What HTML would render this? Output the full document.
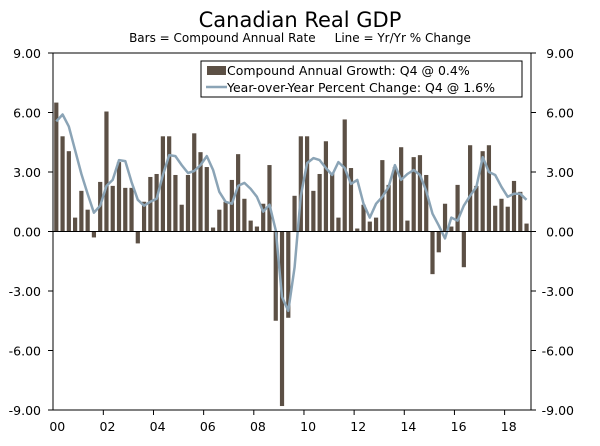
<!DOCTYPE html>
<html><head><meta charset="utf-8"><style>
html,body{margin:0;padding:0;background:#fff;}
svg text{font-family:"DejaVu Sans","Liberation Sans",sans-serif;fill:#000;}
</style></head><body>
<svg id="chart" width="600" height="441" viewBox="0 0 600 441" xmlns="http://www.w3.org/2000/svg">
<text x="300" y="27" text-anchor="middle" font-size="21">Canadian Real GDP</text>
<text x="300" y="42" text-anchor="middle" font-size="12">Bars = Compound Annual Rate &#160;&#160;&#160; Line = Yr/Yr % Change</text>
<g id="grid"></g>
<g id="bars"></g>
<g id="line"></g>
<g id="axes"></g>
<g>
<rect x="201" y="61" width="321" height="36" fill="#fff" stroke="#000" stroke-width="1"/>
<rect x="207" y="66" width="19" height="9" fill="#5c5045"/>
<text x="227" y="75" font-size="12.5">Compound Annual Growth: Q4 @ 0.4%</text>
<line x1="206" y1="87" x2="227" y2="87" stroke="#8ba4b6" stroke-width="2.5"/>
<text x="227" y="92" font-size="12.5">Year-over-Year Percent Change: Q4 @ 1.6%</text>
</g>
</svg>
<script>
const barValues=[6.5,4.8,4.05,0.7,2.05,1.1,-0.3,2.5,6.05,2.3,3.5,2.2,2.2,-0.6,1.5,2.75,2.9,4.8,4.8,2.85,1.35,2.85,4.95,4.0,3.25,0.2,1.1,1.5,2.6,3.9,1.65,0.55,0.25,1.4,3.35,-4.5,-8.8,-4.35,1.8,4.8,4.8,2.05,2.9,4.55,2.95,0.7,5.65,3.2,0.15,1.35,0.5,0.7,3.6,2.35,3.25,4.25,0.55,3.75,3.85,2.85,-2.15,-1.05,1.4,0.25,2.35,-1.8,4.35,2.3,4.05,4.35,1.3,1.65,1.25,2.55,2.0,0.4];
const lineValues=[5.55,5.9,5.3,4.1,2.9,1.9,0.95,1.3,2.3,2.6,3.6,3.55,2.5,1.6,1.3,1.5,1.65,2.85,3.85,3.8,3.35,2.95,3.05,3.35,3.8,3.1,2.0,1.5,1.4,2.3,2.45,2.15,1.75,1.0,1.35,0.05,-3.3,-4.0,-1.8,1.8,3.45,3.7,3.6,3.2,2.85,3.5,3.2,2.4,2.6,1.4,0.7,1.4,1.75,2.25,3.35,2.6,2.9,3.1,2.85,2.05,0.9,0.3,-0.35,0.7,0.55,1.3,1.8,2.25,3.75,3.0,2.85,2.25,1.75,1.9,1.9,1.6];
const yTicks=[9,6,3,0,-3,-6,-9];
const xLabels=["00","02","04","06","08","10","12","14","16","18"];
const NS="http://www.w3.org/2000/svg";
const L=53,R=531,T=53,B=410;
function y(v){return 231.5-v*(B-T)/18;}
function x(i){return 56.3+i*6.27;}
function mk(tag,attrs,parent){const e=document.createElementNS(NS,tag);for(const k in attrs)e.setAttribute(k,attrs[k]);parent.appendChild(e);return e;}
const bars=document.getElementById('bars'),line=document.getElementById('line'),axes=document.getElementById('axes');
barValues.forEach((v,i)=>{
 const r=mk('rect',{x:x(i)-2.1,y:Math.min(y(v),y(0)),width:4.2,height:Math.abs(y(v)-y(0)),fill:'#5c5045'},bars);
 
 
});
const p=mk('polyline',{points:lineValues.map((v,i)=>x(i).toFixed(1)+','+y(v).toFixed(1)).join(' '),fill:'none',stroke:'#8ba4b6','stroke-width':2.5,'stroke-linejoin':'round'},line);


mk('line',{x1:L,y1:y(0),x2:R,y2:y(0),stroke:'#000','stroke-width':1},axes);
mk('line',{x1:L,y1:T,x2:R,y2:T,stroke:'#000','stroke-width':1},axes);
mk('line',{x1:L,y1:T,x2:L,y2:B,stroke:'#000','stroke-width':1},axes);
mk('line',{x1:R,y1:T,x2:R,y2:B,stroke:'#000','stroke-width':1},axes);
mk('line',{x1:L,y1:B,x2:R,y2:B,stroke:'#000','stroke-width':1},axes);
yTicks.forEach(v=>{
 mk('line',{x1:L-5,y1:y(v),x2:L,y2:y(v),stroke:'#000'},axes);
 mk('line',{x1:R,y1:y(v),x2:R+5,y2:y(v),stroke:'#000'},axes);
 const t1=mk('text',{x:41,y:y(v)+5,'text-anchor':'end','font-size':12.5},axes);t1.textContent=v.toFixed(2);
 
 
 const t2=mk('text',{x:574,y:y(v)+5,'text-anchor':'end','font-size':12.5},axes);t2.textContent=v.toFixed(2);
 
 
});
for(let k=1;k<10;k++){const tx=(x(k*8-1)+x(k*8))/2;mk('line',{x1:tx,y1:B,x2:tx,y2:B+5,stroke:'#000'},axes);}
xLabels.forEach((s,k)=>{
 const t=mk('text',{x:x(k*8)+1,y:431,'text-anchor':'middle','font-size':12.5},axes);t.textContent=s;
 
 
});
</script>
</body></html>
